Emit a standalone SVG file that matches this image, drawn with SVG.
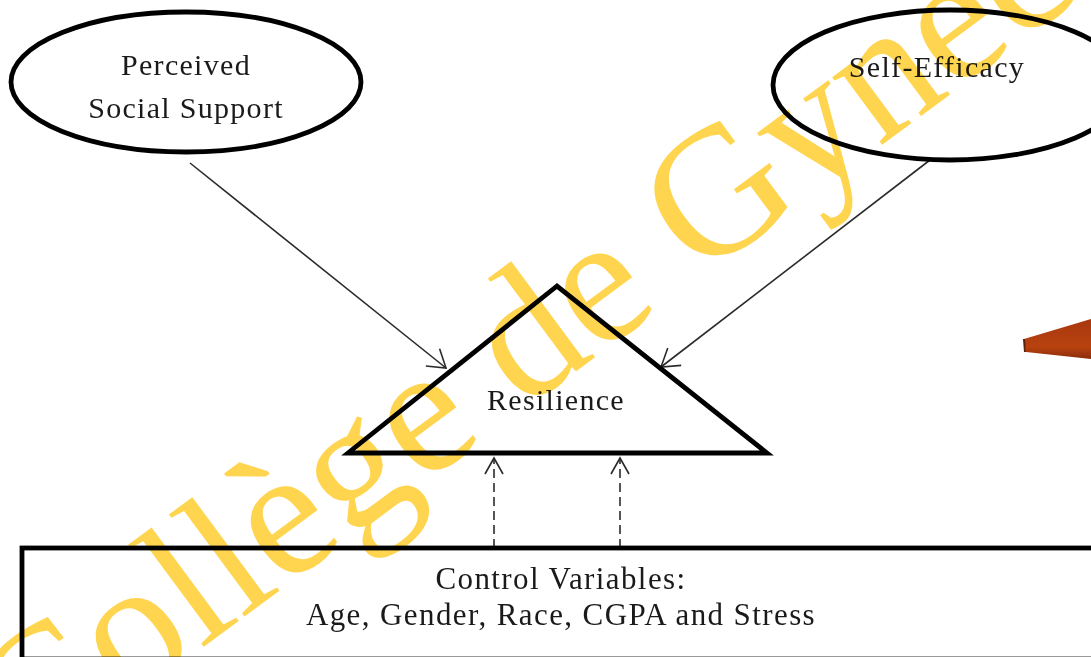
<svg xmlns="http://www.w3.org/2000/svg" width="1091" height="657" viewBox="0 0 1091 657">
  <style>
    .shape { fill: #ffffff; stroke: #000000; stroke-width: 4.8; stroke-linejoin: miter; }
    .label { font-family: "Liberation Serif", "Times New Roman", serif; font-size: 30px; fill: #1a1a1a; text-anchor: middle; letter-spacing: 1.3px; }
    .label-lg { font-size: 31px; letter-spacing: 1.4px; }
    .edge { fill: none; stroke: #2b2b2b; stroke-width: 1.6; }
    .dashed { stroke-dasharray: 9 5; }
    .mark { font-family: "Liberation Serif", "Times New Roman", serif; font-size: 183px; fill: #ffd54f; mix-blend-mode: multiply; }
  </style>
  <defs>
    <marker id="open-arrow" markerUnits="userSpaceOnUse" markerWidth="30" markerHeight="30" viewBox="0 0 30 30" refX="20" refY="15" orient="auto">
      <path d="M3,4 L20,15 L3,26" fill="none" stroke="#2b2b2b" stroke-width="1.6"/>
    </marker>
    <marker id="open-arrow-small" markerUnits="userSpaceOnUse" markerWidth="30" markerHeight="30" viewBox="0 0 30 30" refX="20" refY="15" orient="auto">
      <path d="M4,6 L20,15 L4,24" fill="none" stroke="#2b2b2b" stroke-width="1.6"/>
    </marker>
    <linearGradient id="bar-shade" x1="0" y1="0" x2="0" y2="1">
      <stop offset="0" stop-color="#a8380f"/>
      <stop offset="0.7" stop-color="#b8420f"/>
      <stop offset="1" stop-color="#8a2c0c"/>
    </linearGradient>
  </defs>

  <rect x="0" y="0" width="1091" height="657" fill="#ffffff"/>

  <!-- paths between the constructs -->
  <g id="connectors">
    <line class="edge" x1="190" y1="163" x2="446" y2="368" marker-end="url(#open-arrow)"/>
    <line class="edge" x1="930" y1="160" x2="661" y2="367" marker-end="url(#open-arrow)"/>
    <line class="edge dashed" x1="494" y1="548" x2="494" y2="458" marker-end="url(#open-arrow-small)"/>
    <line class="edge dashed" x1="620" y1="548" x2="620" y2="458" marker-end="url(#open-arrow-small)"/>
  </g>

  <g id="perceived-social-support">
    <ellipse class="shape" cx="186" cy="82" rx="175" ry="70"/>
    <text class="label" x="186" y="75">Perceived</text>
    <text class="label" x="186" y="118">Social Support</text>
  </g>

  <g id="self-efficacy">
    <ellipse class="shape" cx="950" cy="85" rx="177" ry="75"/>
    <text class="label" x="937" y="77">Self-Efficacy</text>
  </g>

  <g id="resilience">
    <polygon class="shape" points="557,286 348,453 767,453" stroke-width="5"/>
    <text class="label" x="556" y="410">Resilience</text>
  </g>

  <g id="control-variables">
    <rect class="shape" x="22" y="548" width="1100" height="111" stroke-width="5"/>
    <text class="label label-lg" x="561" y="589">Control Variables:</text>
    <text class="label label-lg" x="561" y="625">Age, Gender, Race, CGPA and Stress</text>
  </g>

  <!-- partial bar at the right margin -->
  <g id="side-bar">
    <polygon points="1024,339 1091,319 1091,359 1026,352" fill="url(#bar-shade)"/>
    <line x1="1024" y1="339" x2="1025" y2="352" stroke="#5a200a" stroke-width="2"/>
  </g>

  <!-- overprinted mark -->
  <g id="overprint">
    <text class="mark" transform="translate(29 776) rotate(-36.5)">Collège de Gynéc</text>
  </g>
</svg>
